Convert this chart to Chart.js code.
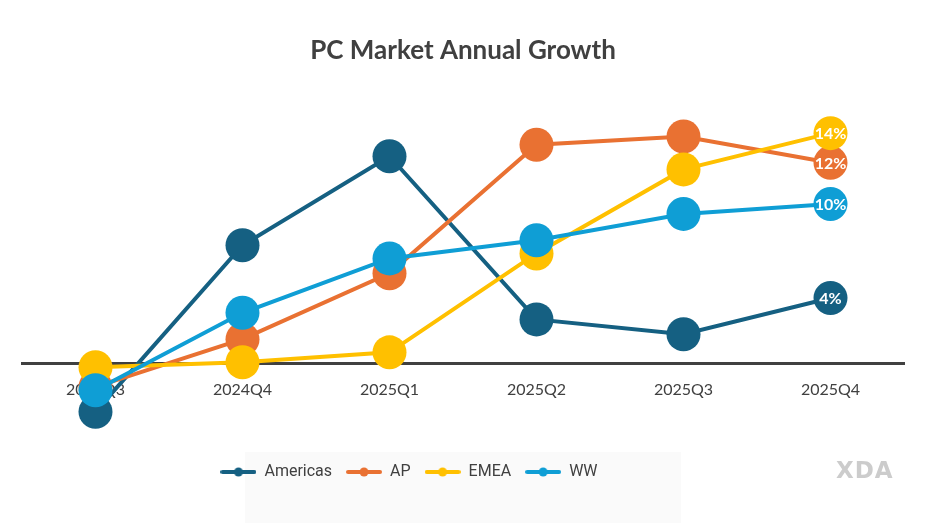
<!DOCTYPE html>
<html>
<head>
<meta charset="utf-8">
<title>PC Market Annual Growth</title>
<script src="https://cdn.jsdelivr.net/npm/chart.js@4.4.1/dist/chart.umd.min.js"></script>
<style>
  html, body { margin: 0; padding: 0; background: #fff; }
  #wrap { width: 931px; height: 523px; position: relative; }
  #logo { position: absolute; left: 836px; top: 457px; font: 700 23px "DejaVu Sans", sans-serif; color: #cccccc; letter-spacing: 1px; }
</style>
</head>
<body>
<div id="wrap">
  <canvas id="lineChart" width="931" height="523"></canvas>
  <div id="logo">XDA</div>
</div>
<script>
// quarters on the x axis
const quarters = ["2024Q3", "2024Q4", "2025Q1", "2025Q2", "2025Q3", "2025Q4"];
// annual growth in %
const americas = [-2.9, 7.2, 12.6, 2.7, 1.8, 4.0];
const ap = [-1.4, 1.5, 5.5, 13.3, 13.8, 12.2];
const emea = [-0.2, 0.1, 0.7, 6.7, 11.8, 14.0];
const ww = [-1.6, 3.1, 6.4, 7.5, 9.1, 9.7];

const COLORS = { americas: "#156082", ap: "#e97132", emea: "#ffc000", ww: "#0f9ed5" };

// little line-with-dot marker for the legend
function legendMarker(color) {
  const c = document.createElement("canvas");
  c.width = 36; c.height = 12;
  const g = c.getContext("2d");
  g.strokeStyle = color; g.lineWidth = 4; g.lineCap = "round";
  g.beginPath(); g.moveTo(2, 6); g.lineTo(34, 6); g.stroke();
  g.fillStyle = color;
  g.beginPath(); g.arc(18, 6, 4.5, 0, Math.PI * 2); g.fill();
  return c;
}

function series(label, data, color, order) {
  return {
    label: label,
    data: data,
    borderColor: color,
    backgroundColor: color,
    pointBackgroundColor: color,
    pointBorderWidth: 0,
    pointRadius: 17,
    pointHoverRadius: 17,
    borderWidth: 4,
    lineTension: 0,
    order: order,
    marker: legendMarker(color)
  };
}

// percent label inside the last point of each line
const endLabels = {
  id: "endLabels",
  afterDatasetsDraw(chart) {
    const ctx = chart.ctx;
    ctx.save();
    ctx.font = "bold 16px Lato, sans-serif";
    ctx.fillStyle = "#ffffff";
    ctx.textAlign = "center";
    ctx.textBaseline = "middle";
    chart.data.datasets.forEach((ds, i) => {
      const meta = chart.getDatasetMeta(i);
      const n = meta.data.length - 1;
      const pt = meta.data[n];
      ctx.fillText(Math.round(ds.data[n]) + "%", pt.x, pt.y + 1);
    });
    ctx.restore();
  }
};

// faint panel behind the legend, and legend nudged left like the original
const legendPanel = {
  id: "legendPanel",
  afterLayout(chart) {
    chart.legend.left -= 54;
    chart.legend.right -= 54;
  },
  beforeDraw(chart) {
    const ctx = chart.ctx;
    ctx.save();
    ctx.fillStyle = "#fafafa";
    ctx.fillRect(245, 452, 436, 71);
    ctx.restore();
  }
};

const CHART = document.getElementById("lineChart");
let lineChart = new Chart(CHART, {
  type: "line",
  data: {
    labels: quarters,
    datasets: [
      series("Americas", americas, COLORS.americas, 4),
      series("AP", ap, COLORS.ap, 3),
      series("EMEA", emea, COLORS.emea, 2),
      series("WW", ww, COLORS.ww, 1)
    ]
  },
  options: {
    responsive: false,
    animation: false,
    devicePixelRatio: 1,
    layout: { padding: { left: 22, right: 27, top: 0, bottom: 33 } },
    plugins: {
      title: {
        display: true,
        text: "PC Market Annual Growth",
        color: "#404040",
        font: { family: "Lato, sans-serif", size: 26, weight: "bold" },
        padding: { top: 35, bottom: 34 }
      },
      legend: {
        position: "bottom",
        title: { display: true, text: " ", font: { size: 1 }, padding: { top: 19, bottom: 0 } },
        labels: {
          usePointStyle: true,
          pointStyleWidth: 36,
          color: "#404040",
          font: { family: "Roboto, sans-serif", size: 16 },
          padding: 14,
          sort: (a, b) => a.datasetIndex - b.datasetIndex,
          generateLabels(chart) {
            return chart.data.datasets.map((ds, i) => ({
              text: ds.label,
              datasetIndex: i,
              pointStyle: ds.marker,
              fillStyle: ds.borderColor,
              strokeStyle: ds.borderColor,
              fontColor: "#404040",
              lineWidth: 0,
              hidden: !chart.isDatasetVisible(i)
            }));
          }
        }
      },
      tooltip: { enabled: false }
    },
    scales: {
      x: {
        offset: true,
        position: { y: 0 },
        grid: { display: false, drawTicks: false },
        border: { display: true, color: "#404040", width: 3 },
        ticks: {
          color: "#404040",
          font: { family: "Lato, sans-serif", size: 16 },
          padding: 16
        }
      },
      y: {
        display: false,
        min: -4,
        max: 16
      }
    }
  },
  plugins: [endLabels, legendPanel]
});
</script>
</body>
</html>
